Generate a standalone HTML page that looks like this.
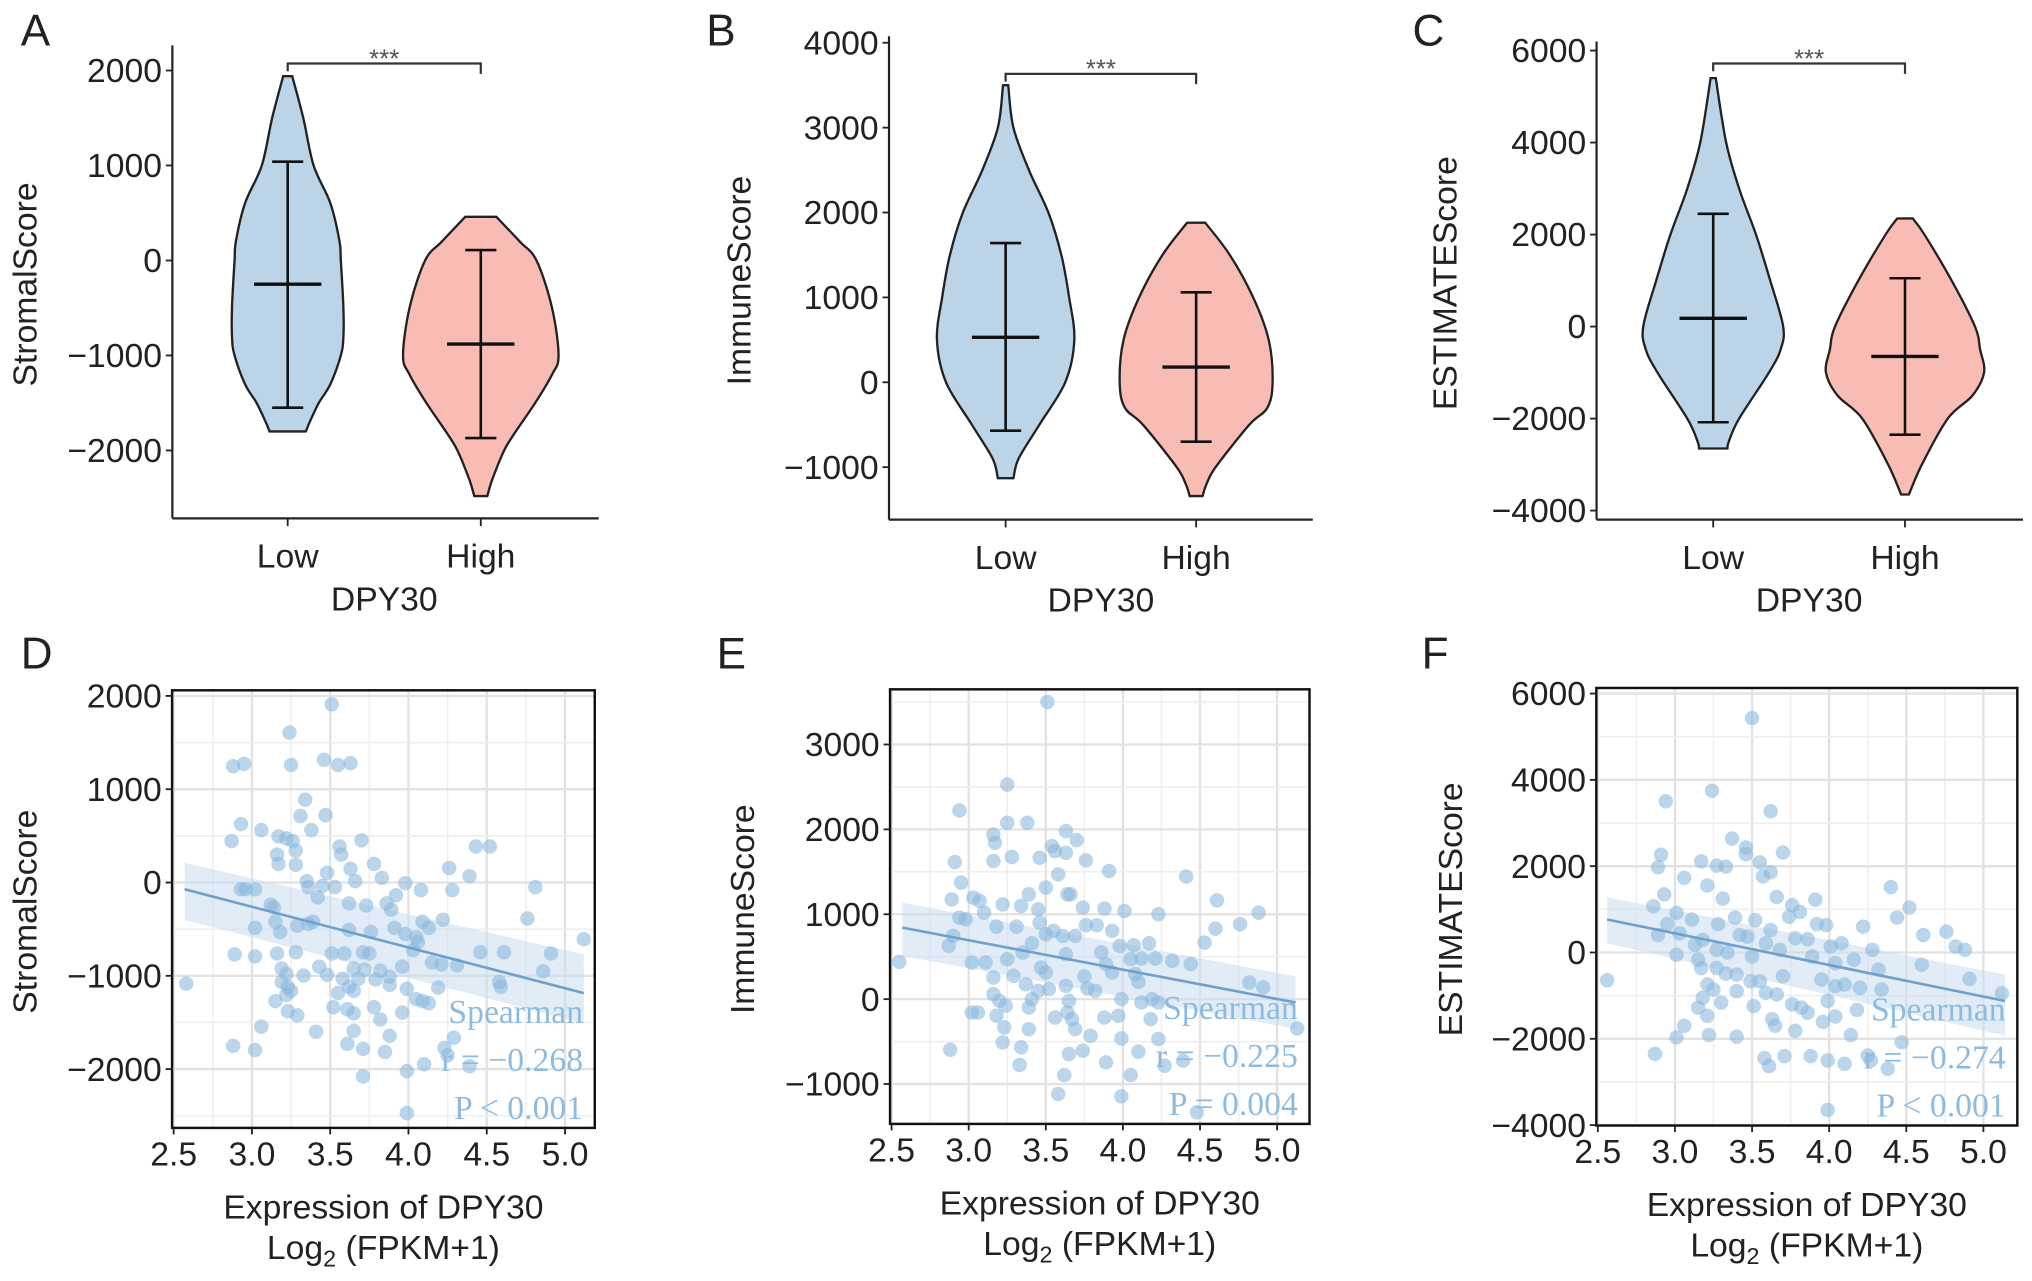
<!DOCTYPE html>
<html><head><meta charset="utf-8"><style>
html,body{margin:0;padding:0;background:#fff;}
svg{display:block;}
text{font-family:"Liberation Sans",sans-serif;fill:#222;}
</style></head><body>
<svg id="fig" width="2032" height="1281" viewBox="0 0 1568 988.5" preserveAspectRatio="none" xmlns="http://www.w3.org/2000/svg"></svg>
<script>
// ---------- violin data ----------
const groups = ["Low","High"];
const aLowProfile = [[1940,3.5],[1500,12],[1000,20],[600,33],[200,40],[0,41],[-500,43],[-800,43],[-1000,41],[-1300,33],[-1500,24],[-1700,17],[-1800,14]];
const aHighProfile = [[460,12],[200,30],[0,43],[-500,55],[-1000,60],[-1200,55],[-1500,42],[-1800,27],[-2000,18],[-2300,9],[-2480,5]];
const bLowProfile = [[3500,2],[3000,6],[2500,18],[2000,33],[1500,43],[1000,49],[500,53],[0,46],[-500,26],[-900,10],[-1130,6]];
const bHighProfile = [[1880,7],[1500,26],[1000,44],[500,56],[0,59],[-300,55],[-500,41],[-1000,15],[-1200,8],[-1340,5]];
const cLowProfile = [[5400,2],[4000,10],[3000,20],[2000,33],[1000,44],[0,54],[-500,52],[-1000,43],[-2000,20],[-2500,12],[-2650,11]];
const cHighProfile = [[2350,6],[2000,15],[1000,36],[0,54],[-500,58],[-1000,61],[-1500,52],[-2000,33],[-3000,13],[-3650,3]];
// [mean, upper, lower]
const aStats = [[-250,1040,-1550],[-880,110,-1870]];
const bStats = [[530,1640,-570],[180,1060,-700]];
const cStats = [[180,2450,-2080],[-650,1050,-2350]];
const aTicks = [2000,1000,0,-1000,-2000];
const bTicks = [4000,3000,2000,1000,0,-1000];
const cTicks = [6000,4000,2000,0,-2000,-4000];
// ---------- scatter data ----------
const xTicks = [2.5,3.0,3.5,4.0,4.5,5.0];
const dX = [3.51,3.24,2.88,2.95,3.25,3.46,3.55,3.63,3.34,3.31,3.47,2.93,3.06,3.38,2.87,3.17,3.22,3.26,3.70,3.28,3.56,3.57,3.16,3.17,3.28,3.78,3.63,3.48,4.26,4.39,4.43,4.52,3.83,3.35,3.36,3.45,3.53,3.66,3.98,2.93,2.96,3.02,4.08,4.28,4.81,3.12,3.14,3.42,3.62,3.73,3.86,3.92,3.89,3.15,3.39,3.29,3.36,3.02,3.18,3.62,3.76,3.91,4.09,4.13,4.22,4.76,4.05,3.98,4.06,5.12,2.89,3.16,3.28,3.51,3.59,3.71,3.75,3.02,4.03,4.46,4.61,4.91,3.96,4.15,4.21,4.31,3.19,3.22,3.43,3.65,3.72,3.82,3.48,4.86,3.33,3.58,3.68,3.79,3.88,3.19,4.58,4.59,2.58,3.23,3.25,3.62,3.65,3.88,3.99,4.19,3.22,3.55,3.15,4.05,4.09,4.13,3.52,3.61,3.78,3.65,3.23,3.29,3.96,3.82,3.06,3.41,3.65,4.29,3.88,2.88,3.02,3.61,3.71,3.85,4.23,4.25,4.10,4.39,3.99,3.71,3.99];
const dY = [1910,1608,1246,1272,1259,1315,1259,1280,888,713,722,626,561,561,443,495,473,443,452,343,386,299,299,199,190,199,146,103,155,68,386,386,50,15,-50,-37,-50,15,-6,-72,-72,-72,-81,-81,-50,-238,-268,-159,-224,-246,-224,-137,-290,-421,-421,-464,-443,-486,-530,-508,-530,-486,-421,-486,-399,-386,-587,-552,-639,-608,-770,-761,-748,-761,-761,-748,-761,-792,-726,-748,-748,-761,-901,-857,-879,-888,-922,-979,-901,-922,-935,-944,-988,-953,-997,-1031,-1031,-1040,-1010,-1066,-1066,-1119,-1084,-1119,-1162,-1119,-1162,-1097,-1140,-1127,-1206,-1184,-1271,-1250,-1271,-1293,-1337,-1359,-1337,-1402,-1380,-1424,-1393,-1468,-1546,-1599,-1590,-1664,-1642,-1751,-1795,-1729,-1782,-1817,-1773,-1852,-1948,-1969,-2022,-2078,-2471];
const eX = [3.51,3.25,2.94,3.25,3.38,3.16,3.17,3.63,3.70,3.54,3.56,3.63,3.46,3.28,3.16,3.76,2.91,3.91,3.58,4.41,2.95,3.50,3.64,3.66,3.39,3.03,3.07,2.89,3.22,3.34,3.74,3.88,4.01,3.45,4.61,4.23,4.88,3.10,2.94,2.98,3.46,3.18,3.31,3.76,3.83,3.93,4.76,4.60,3.55,3.50,3.61,3.69,2.90,2.87,3.41,4.53,3.98,4.07,4.17,3.35,3.63,3.86,4.05,4.12,4.21,4.32,3.02,3.11,3.25,3.47,3.50,3.89,3.93,4.44,2.55,3.16,3.29,3.75,4.08,4.10,4.82,4.91,3.37,3.63,3.77,3.82,3.16,3.20,3.45,3.52,3.41,3.65,3.99,4.12,4.19,3.02,3.06,3.18,3.24,3.39,3.56,3.64,3.67,3.88,3.97,4.18,4.23,5.13,3.23,3.39,3.69,3.79,3.99,4.23,3.22,2.88,3.34,3.65,3.74,4.10,4.27,4.39,3.33,3.89,3.62,4.05,3.58,3.99,4.48];
const eY = [3500,2528,2223,2078,2078,1940,1842,1980,1874,1803,1744,1725,1666,1674,1627,1635,1615,1509,1470,1443,1372,1313,1235,1235,1235,1196,1156,1176,1117,1098,1078,1066,1039,1058,1164,1000,1019,1019,960,941,902,855,855,870,870,804,882,831,804,764,745,745,745,627,659,666,627,635,659,549,529,549,470,478,478,451,431,431,470,372,314,412,314,412,439,255,274,267,294,204,196,137,176,157,125,98,59,-20,98,118,0,-20,0,-39,0,-157,-157,-196,-78,-98,-216,-157,-235,-216,-196,-235,-39,-345,-333,-353,-353,-431,-463,-470,-510,-596,-568,-647,-608,-619,-784,-725,-776,-745,-894,-894,-1117,-1145,-1333];
const fX = [3.50,3.24,2.94,3.62,3.37,3.46,3.70,3.46,2.91,3.17,3.55,3.62,2.89,3.27,3.33,3.06,3.21,4.40,3.57,2.93,3.66,3.31,3.91,4.52,2.86,3.01,3.76,3.81,3.74,3.11,3.39,3.52,4.44,2.95,3.28,3.62,3.92,3.98,4.22,4.76,4.61,2.89,3.03,3.42,3.47,3.78,3.86,4.08,4.82,4.88,3.18,3.13,3.59,3.68,4.01,4.28,3.27,3.34,3.50,3.01,3.15,3.89,4.16,4.60,3.27,3.17,4.04,4.32,2.56,3.33,3.40,3.49,3.55,3.70,3.95,4.04,4.10,4.20,4.91,3.21,3.25,3.40,3.59,3.66,4.34,5.12,3.18,3.30,3.51,3.76,3.82,3.86,3.99,4.18,3.15,3.21,3.63,3.65,3.96,4.04,3.78,3.06,3.01,3.22,3.40,4.14,4.47,2.87,3.58,3.61,3.71,3.88,3.99,4.10,4.25,4.27,4.38,3.99];
const fY = [5432,3749,3504,3274,2639,2433,2318,2280,2264,2111,2088,1859,1974,2012,1989,1729,1553,1515,1760,1346,1285,1247,1224,1040,1071,918,1094,941,826,765,811,750,811,658,658,520,658,635,597,482,405,405,444,405,367,329,306,214,138,61,291,176,214,61,138,61,61,0,-92,-54,-168,-92,-168,-283,-360,-360,-245,-398,-643,-490,-513,-666,-666,-551,-627,-780,-742,-819,-612,-742,-857,-895,-933,-972,-857,-949,-1048,-1163,-1239,-1201,-1278,-1392,-1125,-1331,-1278,-1469,-1545,-1698,-1607,-1484,-1813,-1698,-1966,-1913,-1951,-1913,-2081,-2349,-2448,-2632,-2402,-2402,-2502,-2578,-2387,-2502,-2693,-3649];
const dFit = [2.57,-72,5.12,-1185]; const dBand = [210,-400,-770,-1510];
const eFit = [2.57,843,5.12,-40];   const eBand = [1137,510,270,-350];
const fFit = [2.56,765,5.14,-1125]; const fBand = [1280,215,-510,-1930];
const dStat = ["Spearman","r = \u22120.268","P < 0.001"];
const eStat = ["Spearman","r = \u22120.225","P = 0.004"];
const fStat = ["Spearman","r = \u22120.274","P < 0.001"];

const NS = "http://www.w3.org/2000/svg";
const svg = document.getElementById("fig");
function mk(tag, attrs, parent){
  const e = document.createElementNS(NS, tag);
  for (const k in attrs) e.setAttribute(k, attrs[k]);
  (parent||svg).appendChild(e);
  return e;
}
function txt(s, attrs, parent){ const t = mk("text", attrs, parent); t.textContent = s; return t; }
const FS = 26;

function smooth(pts){
  let d = "";
  for (let i=0;i<pts.length-1;i++){
    const p0 = pts[Math.max(i-1,0)], p1 = pts[i], p2 = pts[i+1], p3 = pts[Math.min(i+2,pts.length-1)];
    const c1 = [p1[0]+(p2[0]-p0[0])/6, p1[1]+(p2[1]-p0[1])/6];
    const c2 = [p2[0]-(p3[0]-p1[0])/6, p2[1]-(p3[1]-p1[1])/6];
    d += ` C${c1[0].toFixed(1)},${c1[1].toFixed(1)} ${c2[0].toFixed(1)},${c2[1].toFixed(1)} ${p2[0].toFixed(1)},${p2[1].toFixed(1)}`;
  }
  return d;
}

function violinPanel(cfg){
  const g = mk("g", {});
  
  
  const y = v => cfg.y0 - v*cfg.k;
  const ya = mk("line",{x1:cfg.ax,y1:cfg.top,x2:cfg.ax,y2:cfg.bot,stroke:"#222","stroke-width":1.7},g);
  
  
  const xa = mk("line",{x1:cfg.ax,y1:cfg.bot,x2:cfg.right,y2:cfg.bot,stroke:"#222","stroke-width":1.7},g);
  
  
  cfg.ticks.forEach(t=>{
    mk("line",{x1:cfg.ax-5,y1:y(t),x2:cfg.ax,y2:y(t),stroke:"#222","stroke-width":1.4},g);
    const lab = txt(String(t).replace("-","\u2212"),{x:cfg.ax-8,y:y(t)+9,"text-anchor":"end","font-size":FS},g);
    
    
  });
  const xs = [cfg.xLow, cfg.xHigh];
  groups.forEach((gname,i)=>{
    mk("line",{x1:xs[i],y1:cfg.bot,x2:xs[i],y2:cfg.bot+6,stroke:"#222","stroke-width":1.4},g);
    const lab = txt(gname,{x:xs[i],y:cfg.bot+38,"text-anchor":"middle","font-size":FS},g);
    
    
    const prof = cfg.profiles[i];
    const right = prof.map(p=>[xs[i]+p[1], y(p[0])]);
    const left = prof.slice().reverse().map(p=>[xs[i]-p[1], y(p[0])]);
    const d = "M"+right[0][0]+","+right[0][1]+smooth(right)+" L"+left[0][0]+","+left[0][1]+smooth(left)+" Z";
    const v = mk("path",{d:d,fill:i===0?"#bcd4e8":"#f9bcb5",stroke:"#222","stroke-width":1.8},g);
    
    
    const st = cfg.stats[i];
    const eb = mk("g",{stroke:"#111","stroke-width":2},g);
    
    
    mk("line",{x1:xs[i],y1:y(st[1]),x2:xs[i],y2:y(st[2])},eb);
    mk("line",{x1:xs[i]-12,y1:y(st[1]),x2:xs[i]+12,y2:y(st[1])},eb);
    mk("line",{x1:xs[i]-12,y1:y(st[2]),x2:xs[i]+12,y2:y(st[2])},eb);
    mk("line",{x1:xs[i]-26,y1:y(st[0]),x2:xs[i]+26,y2:y(st[0]),"stroke-width":2.6},eb);
  });
  const br = mk("path",{d:`M${cfg.xLow},${cfg.br+6} L${cfg.xLow},${cfg.br} L${cfg.xHigh},${cfg.br} L${cfg.xHigh},${cfg.br+8}`,fill:"none",stroke:"#333","stroke-width":1.7},g);
  
  
  const stars = txt("***",{x:(cfg.xLow+cfg.xHigh)/2,y:cfg.br+3,"text-anchor":"middle","font-size":20,style:"fill:#555"},g);
  
  
  const yt = txt(cfg.ytitle,{x:0,y:0,"text-anchor":"middle","font-size":FS,transform:`translate(${cfg.ytx},${(cfg.top+cfg.bot)/2+2}) rotate(-90)`},g);
  
  
  const xt = txt("DPY30",{x:(cfg.xLow+cfg.xHigh)/2,y:cfg.bot+71,"text-anchor":"middle","font-size":FS},g);
  
  
  const pl = txt(cfg.letter,{x:cfg.lx,y:35,"font-size":34},g);
  
  
}

violinPanel({name:"panel-a-stromal-violin",letter:"A",lx:16,y0:201,k:0.0733,ax:133,top:35,bot:400,right:462,xLow:222,xHigh:371,ticks:aTicks,profiles:[aLowProfile,aHighProfile],stats:aStats,br:49,ytitle:"StromalScore",ytx:28});
violinPanel({name:"panel-b-immune-violin",letter:"B",lx:545,y0:295,k:0.0655,ax:686,top:28,bot:401,right:1013,xLow:776,xHigh:923,ticks:bTicks,profiles:[bLowProfile,bHighProfile],stats:bStats,br:57,ytitle:"ImmuneScore",ytx:579});
violinPanel({name:"panel-c-estimate-violin",letter:"C",lx:1090,y0:252,k:0.0355,ax:1232,top:32,bot:401,right:1561,xLow:1322,xHigh:1470,ticks:cTicks,profiles:[cLowProfile,cHighProfile],stats:cStats,br:49,ytitle:"ESTIMATEScore",ytx:1124});

function scatterPanel(cfg){
  const g = mk("g", {});
  
  
  const sx = v => cfg.x0 + (v-2.5)*cfg.kx;
  const sy = v => cfg.y0 - v*cfg.ky;
  const L = sx(cfg.xr[0]), R = sx(cfg.xr[1]), T = sy(cfg.yr[1]), B = sy(cfg.yr[0]);
  mk("rect",{x:L,y:T,width:R-L,height:B-T,fill:"#fff"},g);
  const grid = mk("g",{},g);
  
  
  for (let i=0;i<xTicks.length;i++){
    const mj = xTicks[i], mn = mj+0.25;
    mk("line",{x1:sx(mj),y1:T,x2:sx(mj),y2:B,stroke:"#e2e2e2","stroke-width":1.8},grid);
    if (sx(mn) < R) mk("line",{x1:sx(mn),y1:T,x2:sx(mn),y2:B,stroke:"#eeeeee","stroke-width":1.1},grid);
  }
  const step = cfg.ticks[0]-cfg.ticks[1];
  cfg.ticks.forEach(t=>{
    mk("line",{x1:L,y1:sy(t),x2:R,y2:sy(t),stroke:"#e2e2e2","stroke-width":1.8},grid);
    [t+step/2,t-step/2].forEach(m=>{ if (sy(m)>T && sy(m)<B) mk("line",{x1:L,y1:sy(m),x2:R,y2:sy(m),stroke:"#eeeeee","stroke-width":1.1},grid); });
  });
  const f = cfg.fit, b = cfg.band;
  const band = mk("path",{d:`M${sx(f[0])},${sy(b[0])} L${sx(f[2])},${sy(b[2])} L${sx(f[2])},${sy(b[3])} L${sx(f[0])},${sy(b[1])} Z`,fill:"#c9dcee","fill-opacity":0.55},g);
  
  
  const pts = mk("g",{},g);
  
  
  cfg.xs.forEach((xv,i)=>{
    const c = mk("circle",{cx:sx(xv),cy:sy(cfg.ys[i]),r:5.6,fill:"#8ab6dc","fill-opacity":0.58},pts);
    
    
  });
  const ln = mk("line",{x1:sx(f[0]),y1:sy(f[1]),x2:sx(f[2]),y2:sy(f[3]),stroke:"#6f9fcb","stroke-width":2},g);
  
  
  const st = mk("g",{},g);
  
  
  cfg.stat.forEach((s,i)=>{
    txt(s,{x:R-9,y:B-81+i*37,"text-anchor":"end","font-size":26,style:"font-family:'Liberation Serif',serif;fill:#8dbbe0"},st);
  });
  const frame = mk("rect",{x:L,y:T,width:R-L,height:B-T,fill:"none",stroke:"#111","stroke-width":1.9},g);
  
  
  cfg.ticks.forEach(t=>{
    mk("line",{x1:L-5,y1:sy(t),x2:L,y2:sy(t),stroke:"#222","stroke-width":1.4},g);
    const lab = txt(String(t).replace("-","\u2212"),{x:L-8,y:sy(t)+9,"text-anchor":"end","font-size":FS},g);
    
    
  });
  xTicks.forEach(t=>{
    mk("line",{x1:sx(t),y1:B,x2:sx(t),y2:B+5,stroke:"#222","stroke-width":1.4},g);
    const lab = txt(t.toFixed(1),{x:sx(t),y:B+29,"text-anchor":"middle","font-size":FS},g);
    
    
  });
  const cx = (L+R)/2;
  const xt1 = txt("Expression of DPY30",{x:cx,y:B+70,"text-anchor":"middle","font-size":FS},g);
  
  
  const xt2 = mk("text",{x:cx,y:B+101,"text-anchor":"middle","font-size":FS},g);
  
  
  xt2.innerHTML = 'Log<tspan dy="6" font-size="18">2</tspan><tspan dy="-6"> (FPKM+1)</tspan>';
  const yt = txt(cfg.ytitle,{x:0,y:0,"text-anchor":"middle","font-size":FS,transform:`translate(${cfg.ytx},${(T+B)/2+2}) rotate(-90)`},g);
  
  
  const pl = txt(cfg.letter,{x:cfg.lx,y:516,"font-size":34},g);
  
  
}

scatterPanel({name:"panel-d-stromal-scatter",letter:"D",lx:16,x0:134,kx:120.8,y0:681,ky:0.072,xr:[2.49,5.19],yr:[-2630,2060],ticks:aTicks,xs:dX,ys:dY,fit:dFit,band:dBand,stat:dStat,ytitle:"StromalScore",ytx:28});
scatterPanel({name:"panel-e-immune-scatter",letter:"E",lx:553,x0:688,kx:119,y0:771,ky:0.0655,xr:[2.49,5.21],yr:[-1470,3650],ticks:[3000,2000,1000,0,-1000],xs:eX,ys:eY,fit:eFit,band:eBand,stat:eStat,ytitle:"ImmuneScore",ytx:582});
scatterPanel({name:"panel-f-estimate-scatter",letter:"F",lx:1097,x0:1233,kx:119,y0:735,ky:0.0333,xr:[2.49,5.22],yr:[-4010,6130],ticks:cTicks,xs:fX,ys:fY,fit:fFit,band:fBand,stat:fStat,ytitle:"ESTIMATEScore",ytx:1128});
</script>
</body></html>
